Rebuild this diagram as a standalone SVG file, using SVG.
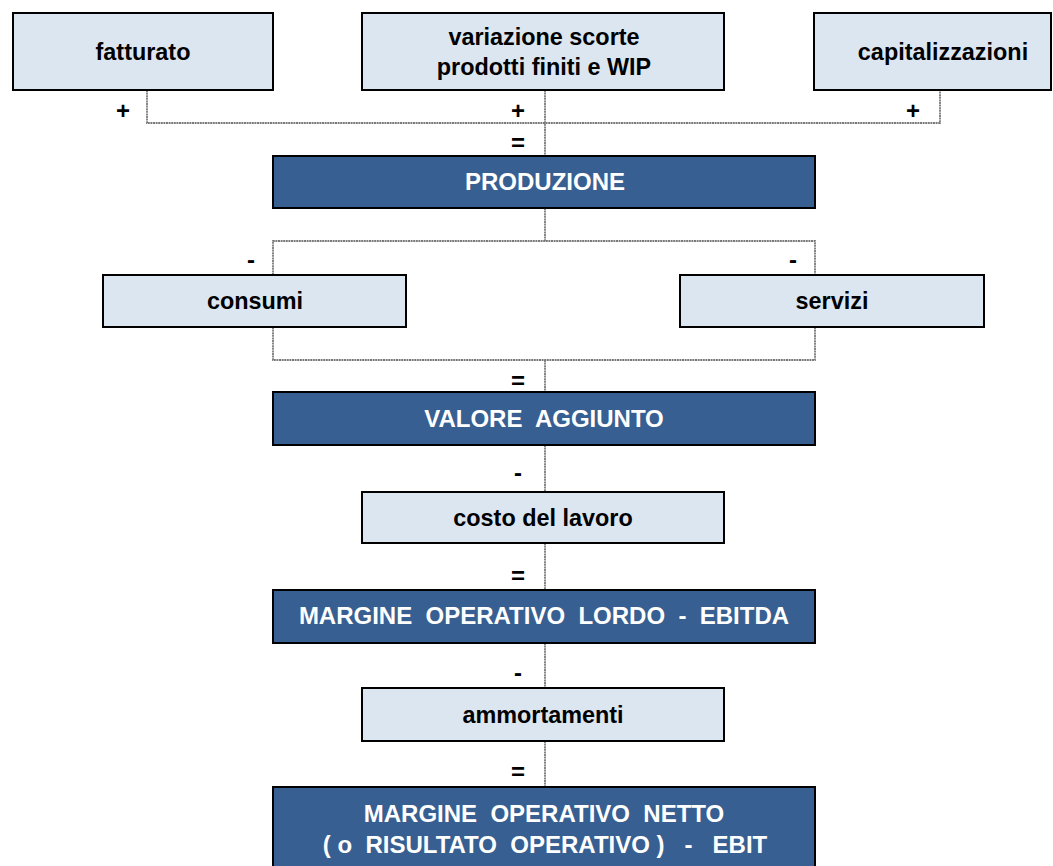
<svg xmlns="http://www.w3.org/2000/svg" width="1053" height="866" viewBox="0 0 1053 866">
  <style>
    .light { fill: #DCE6F1; stroke: #000; stroke-width: 2; }
    .dark { fill: #375F91; stroke: #000; stroke-width: 2; }
    .lbl { font-family: "Liberation Sans", Arial, sans-serif; font-weight: bold; font-size: 23.4px; text-anchor: middle; fill: #000; white-space: pre; }
    .lbl-w { font-family: "Liberation Sans", Arial, sans-serif; font-weight: bold; font-size: 24px; text-anchor: middle; fill: #fff; white-space: pre; }
    .sign { font-family: "Liberation Sans", Arial, sans-serif; font-weight: bold; font-size: 24px; text-anchor: middle; fill: #000; }
    .conn { fill: none; stroke: #7a7a7a; stroke-width: 1.8; stroke-dasharray: 2 0.6; }
  </style>
  <rect width="1053" height="866" fill="#fff"/>

  <!-- connectors and operator signs -->
  <g id="connectors">
    <polyline class="conn" points="147,90 147,123 940,123 940,90"/>
    <line class="conn" x1="545" y1="90" x2="545" y2="156"/>
    <line class="conn" x1="545" y1="208" x2="545" y2="241"/>
    <polyline class="conn" points="273,275 273,241 815,241 815,275"/>
    <polyline class="conn" points="273,327 273,360 815,360 815,327"/>
    <line class="conn" x1="545" y1="360" x2="545" y2="392"/>
    <line class="conn" x1="545" y1="445" x2="545" y2="492"/>
    <line class="conn" x1="545" y1="543" x2="545" y2="590"/>
    <line class="conn" x1="545" y1="643" x2="545" y2="688"/>
    <line class="conn" x1="545" y1="741" x2="545" y2="787"/>

    <text class="sign" x="123" y="119">+</text>
    <text class="sign" x="518" y="119">+</text>
    <text class="sign" x="913" y="119">+</text>
    <text class="sign" x="518" y="151">=</text>
    <text class="sign" x="251" y="268">-</text>
    <text class="sign" x="793" y="268">-</text>
    <text class="sign" x="518" y="389">=</text>
    <text class="sign" x="518" y="481">-</text>
    <text class="sign" x="518" y="584">=</text>
    <text class="sign" x="518" y="681">-</text>
    <text class="sign" x="518" y="780">=</text>
  </g>

  <g id="fatturato">
    <rect class="light" x="13" y="13" width="260" height="77"/>
    <text class="lbl" x="143" y="60">fatturato</text>
  </g>

  <g id="variazione-scorte">
    <rect class="light" x="362" y="13" width="362" height="77"/>
    <text class="lbl" x="544" y="45">variazione scorte</text>
    <text class="lbl" x="544" y="75">prodotti finiti e WIP</text>
  </g>

  <g id="capitalizzazioni">
    <rect class="light" x="814" y="13" width="237" height="77"/>
    <text class="lbl" x="943" y="60">capitalizzazioni</text>
  </g>

  <g id="produzione">
    <rect class="dark" x="273" y="156" width="542" height="52"/>
    <text class="lbl-w" x="545" y="190">PRODUZIONE</text>
  </g>

  <g id="consumi">
    <rect class="light" x="103" y="275" width="303" height="52"/>
    <text class="lbl" x="255" y="309">consumi</text>
  </g>

  <g id="servizi">
    <rect class="light" x="680" y="275" width="304" height="52"/>
    <text class="lbl" x="832" y="309">servizi</text>
  </g>

  <g id="valore-aggiunto">
    <rect class="dark" x="273" y="392" width="542" height="53"/>
    <text class="lbl-w" x="544" y="427">VALORE  AGGIUNTO</text>
  </g>

  <g id="costo-lavoro">
    <rect class="light" x="362" y="492" width="362" height="51"/>
    <text class="lbl" x="543" y="526">costo del lavoro</text>
  </g>

  <g id="ebitda">
    <rect class="dark" x="273" y="590" width="542" height="53"/>
    <text class="lbl-w" x="544" y="624">MARGINE  OPERATIVO  LORDO  -  EBITDA</text>
  </g>

  <g id="ammortamenti">
    <rect class="light" x="362" y="688" width="362" height="53"/>
    <text class="lbl" x="543" y="723">ammortamenti</text>
  </g>

  <g id="ebit">
    <rect class="dark" x="273" y="787" width="542" height="90"/>
    <text class="lbl-w" x="544" y="822">MARGINE  OPERATIVO  NETTO</text>
    <text class="lbl-w" x="545" y="853">( o  RISULTATO  OPERATIVO )   -   EBIT</text>
  </g>
</svg>
